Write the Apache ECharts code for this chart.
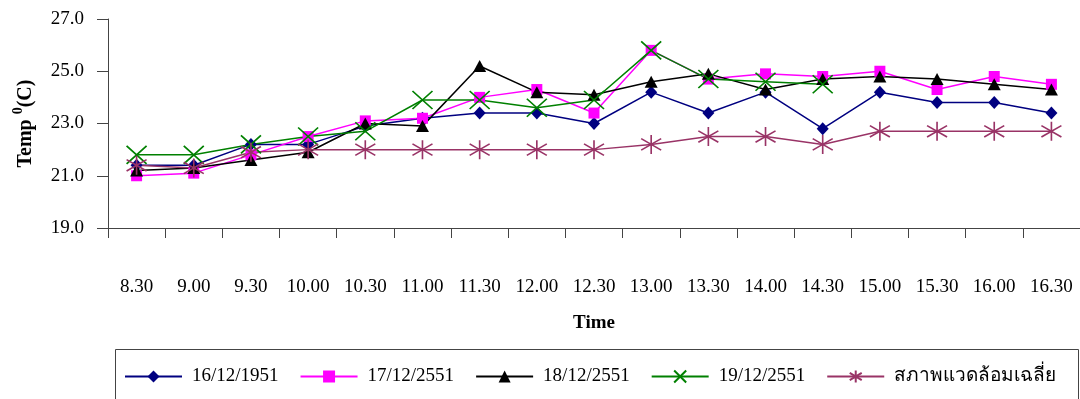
<!DOCTYPE html>
<html>
<head>
<meta charset="utf-8">
<script src="https://cdn.jsdelivr.net/npm/echarts@6/dist/echarts.min.js"></script>
<style>
html,body{margin:0;padding:0;background:#fff;}
#chart{width:1080px;height:399px;}
</style>
</head>
<body>
<div id="chart"></div>
<script>
const categories = ['8.30','9.00','9.30','10.00','10.30','11.00','11.30','12.00','12.30','13.00','13.30','14.00','14.30','15.00','15.30','16.00','16.30'];
const yTicks = [19, 21, 23, 25, 27];
const seriesNames = ['16/12/1951','17/12/2551','18/12/2551','19/12/2551','สภาพแวดล้อมเฉลี่ย'];
const day16 = [21.4,21.4,22.2,22.2,22.9,23.2,23.4,23.4,23.0,24.2,23.4,24.2,22.8,24.2,23.8,23.8,23.4];
const day17 = [21.0,21.1,21.8,22.5,23.1,23.2,24.0,24.3,23.4,25.8,24.7,24.9,24.8,25.0,24.3,24.8,24.5];
const day18 = [21.2,21.3,21.6,21.9,23.0,22.9,25.2,24.2,24.1,24.6,24.9,24.3,24.7,24.8,24.7,24.5,24.3];
const day19 = [21.8,21.8,22.2,22.5,22.7,23.9,23.9,23.6,23.9,25.8,24.7,24.6,24.5,null,null,null,null];
const average = [21.4,21.3,21.9,22.0,22.0,22.0,22.0,22.0,22.0,22.2,22.5,22.5,22.2,22.7,22.7,22.7,22.7];

const FONT = "'Liberation Serif', 'Times New Roman', 'Noto Sans', serif";
const chart = echarts.init(document.getElementById('chart'));

function mk(name, data, color, symbol, size, stroke) {
  return {
    name: name, type: 'line', data: data,
    symbol: symbol, symbolSize: size,
    showAllSymbol: true,
    lineStyle: {color: color, width: 1.5},
    itemStyle: stroke ? {color: 'rgba(0,0,0,0)', borderColor: color, borderWidth: 1.6}
                      : {color: color, borderColor: color, borderWidth: 0},
    emphasis: {disabled: true},
    connectNulls: false,
    z: 2
  };
}

const XPATH = 'path://M0,0L20,18M20,0L0,18';
const STAR = 'path://M10,0L10,20M0,4L20,16M20,4L0,16';

chart.setOption({
  animation: false,
  backgroundColor: '#fff',
  grid: {left: 108, right: 0, top: 19, bottom: 171},
  xAxis: {
    type: 'category', data: categories, boundaryGap: true,
    name: 'Time', nameLocation: 'middle', nameGap: 86,
    nameTextStyle: {fontFamily: FONT, fontWeight: 'bold', fontSize: 19, color: '#000'},
    axisLine: {lineStyle: {color: '#444', width: 1}},
    axisTick: {show: true, length: 10, interval: 0, lineStyle: {color: '#444'}},
    axisLabel: {interval: 0, margin: 50, fontFamily: FONT, fontSize: 19, color: '#000'},
    splitLine: {show: false}
  },
  yAxis: {
    type: 'value', min: yTicks[0], max: yTicks[yTicks.length-1], interval: 2,
    name: 'Temp {sup|0}(C)', nameLocation: 'middle', nameGap: 68, nameRotate: 90,
    nameTextStyle: {fontFamily: FONT, fontWeight: 'bold', fontSize: 20, color: '#000',
      lineHeight: 28, verticalAlign: 'bottom',
      rich: {sup: {fontFamily: FONT, fontWeight: 'bold', fontSize: 14, color: '#000', verticalAlign: 'top', lineHeight: 14}}},
    axisLine: {show: true, lineStyle: {color: '#444', width: 1}},
    axisTick: {show: true, length: 11, lineStyle: {color: '#444'}},
    axisLabel: {margin: 24, fontFamily: FONT, fontSize: 19, color: '#000', formatter: v => v.toFixed(1)},
    splitLine: {show: false}
  },
  legend: {
    left: 124, top: 367, itemWidth: 57, itemHeight: 15, itemGap: 21,
    padding: 0,
    data: seriesNames,
    textStyle: {fontFamily: FONT, fontSize: 19, color: '#000', padding: [0,0,0,5]}
  },
  graphic: [{
    type: 'rect', left: 113, top: 347, z: -1,
    shape: {width: 963, height: 70},
    style: {fill: 'none', stroke: '#444', lineWidth: 1}
  }],
  series: [
    mk(seriesNames[0], day16, '#000080', 'diamond', [12,13], false),
    mk(seriesNames[1], day17, '#FF00FF', 'rect', [11,11], false),
    mk(seriesNames[2], day18, '#000000', 'triangle', [13,12], false),
    mk(seriesNames[3], day19, '#008000', XPATH, [20,18], true),
    mk(seriesNames[4], average, '#993366', STAR, [20,19], true)
  ]
});
</script>
</body>
</html>
